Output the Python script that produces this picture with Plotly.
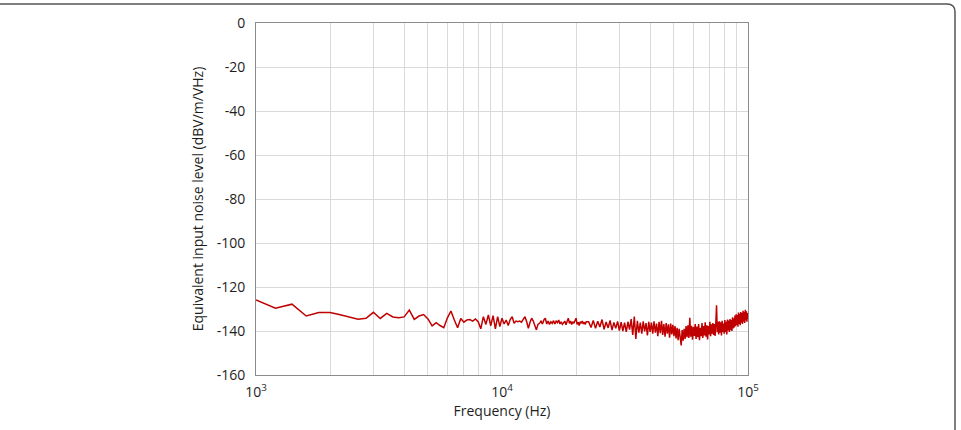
import plotly.graph_objects as go

# ---------------- data ----------------
freq_khz_low = [1.0, 1.2, 1.4, 1.6, 1.8, 2.0, 2.2, 2.4, 2.6, 2.8, 3.0, 3.2, 3.4, 3.6, 3.8,
                4.0, 4.2, 4.4, 4.6, 4.8, 5.0, 5.2, 5.4, 5.6, 5.8, 6.0, 6.2, 6.4, 6.6, 6.8,
                7.0, 7.2, 7.4, 7.6, 7.8, 8.0, 8.2, 8.4, 8.6, 8.8, 9.0, 9.2, 9.4, 9.6, 9.8]
level_low = [-125.9, -129.6, -127.8, -133.2, -131.6, -131.6, -132.6, -133.8, -134.7, -134.2,
             -131.5, -134.3, -132.0, -133.6, -134.0, -133.6, -130.5, -134.7, -133.2, -132.5,
             -134.5, -137.7, -136.2, -137.5, -138.5, -134.0, -130.9, -135.0, -138.5, -134.3,
             -136.0, -135.0, -134.8, -135.5, -134.5, -135.8, -139.0, -133.5, -137.0, -132.7,
             -137.6, -133.0, -139.0, -133.5, -138.0]

freq_khz_mid = [10.0, 10.2, 10.4, 10.6, 10.8, 11.0, 11.2, 11.4, 11.6, 11.8, 12.0, 12.2, 12.4,
                12.6, 12.8, 13.0, 13.2, 13.4, 13.6, 13.8, 14.0, 14.2, 14.4, 14.6, 14.8, 15.0,
                15.2, 15.4, 15.6, 15.8, 16.0, 16.2, 16.4, 16.6, 16.8, 17.0, 17.2, 17.4, 17.6,
                17.8, 18.0, 18.2, 18.4, 18.6, 18.8, 19.0, 19.2, 19.4, 19.6, 19.8, 20.0, 20.2,
                20.4, 20.6, 20.8, 21.0, 21.2, 21.4, 21.6, 21.8, 22.0]
level_mid = [-134.2, -136.8, -135.0, -137.5, -134.8, -133.5, -136.5, -135.5, -135.8, -135.5,
             -136.0, -134.5, -133.5, -135.8, -138.8, -136.0, -134.2, -135.5, -137.3, -139.5,
             -137.0, -136.5, -135.5, -136.8, -135.0, -134.2, -136.8, -135.5, -137.0, -135.8,
             -136.5, -135.3, -136.8, -135.5, -136.2, -135.0, -136.8, -135.8, -137.0, -136.0,
             -135.5, -137.2, -135.8, -134.2, -136.5, -135.5, -137.0, -135.8, -136.5, -135.0,
             -134.2, -137.0, -136.0, -137.5, -135.8, -136.5, -135.5, -136.8, -136.0, -137.0,
             -135.8]

freq_khz_high = [22.5, 23.0, 23.5, 24.0, 24.5, 25.0, 25.5, 26.0, 26.5, 27.0, 27.5, 28.0, 28.5,
                 29.0, 29.5, 30.0, 30.5, 31.0, 31.5, 32.0, 32.5, 33.0, 33.5, 34.0, 34.5, 35.0,
                 35.5, 36.0, 36.5, 37.0, 37.5, 38.0, 38.5, 39.0, 39.5, 40.0, 40.5, 41.0, 41.5,
                 42.0, 42.5, 43.0, 43.5, 44.0, 44.5, 45.0, 45.5, 46.0, 46.5, 47.0, 47.5, 48.0,
                 48.5, 49.0, 49.5, 50.0, 50.5, 51.0, 51.5, 52.0, 52.5, 53.0, 53.5, 54.0, 54.5,
                 55.0, 55.5, 56.0, 56.5, 57.0, 57.5, 58.0, 58.5, 59.0, 59.5, 60.0, 60.5, 61.0,
                 61.5, 62.0, 62.5, 63.0, 63.5, 64.0, 64.5, 65.0, 65.5, 66.0, 66.5, 67.0, 67.5,
                 68.0, 68.5, 69.0, 69.5, 70.0, 70.5, 71.0, 71.5, 72.0, 72.5, 73.0, 73.5, 74.0,
                 74.5, 75.0, 75.5, 76.0, 76.5, 77.0, 77.5, 78.0, 78.5, 79.0, 79.5, 80.0, 80.5,
                 81.0, 81.5, 82.0, 82.5, 83.0, 83.5, 84.0, 84.5, 85.0, 85.5, 86.0, 86.5, 87.0,
                 87.5, 88.0, 88.5, 89.0, 89.5, 90.0, 90.5, 91.0, 91.5, 92.0, 92.5, 93.0, 93.5,
                 94.0, 94.5, 95.0, 95.5, 96.0, 96.5, 97.0, 97.5, 98.0, 98.5, 99.0, 99.5, 100.0]
level_high = [-135.8, -138.4, -135.2, -138.8, -135.6, -138.2, -134.8, -139.2, -135.9, -138.6, -135.2, -139.6, -136.1,
              -138.8, -135.6, -139.8, -136.0, -140.0, -136.2, -140.4, -135.8, -139.4, -134.6, -141.8, -133.4, -143.6,
              -135.4, -140.8, -136.2, -141.2, -135.6, -140.2, -136.4, -142.0, -135.8, -140.4, -136.2, -141.2, -135.6,
              -140.8, -136.6, -142.4, -135.8, -141.0, -135.4, -141.8, -136.8, -142.6, -136.4, -141.2, -137.0, -143.0,
              -136.6, -141.6, -137.2, -142.4, -137.8, -143.4, -138.6, -144.2, -139.0, -145.0, -146.6, -139.6, -144.4,
              -139.0, -143.6, -137.8, -142.8, -137.4, -143.2, -134.0, -142.6, -137.6, -144.0, -138.2, -142.2, -136.8,
              -143.6, -138.0, -142.8, -136.8, -144.2, -138.6, -142.4, -136.4, -143.2, -137.8, -142.0, -136.0, -142.6,
              -137.4, -143.8, -137.8, -141.6, -135.8, -142.4, -137.0, -141.2, -136.4, -141.8, -136.8, -142.2, -136.4,
              -128.3, -140.6, -135.8, -141.6, -135.6, -140.8, -136.0, -142.0, -135.4, -140.4, -136.6, -141.2, -135.0,
              -140.6, -135.8, -141.6, -134.8, -139.8, -135.2, -140.4, -134.6, -139.6, -135.0, -140.0, -133.8, -138.8,
              -134.2, -138.4, -133.0, -137.8, -132.4, -137.2, -132.8, -138.0, -131.6, -136.8, -132.2, -137.4, -131.4,
              -136.2, -131.8, -136.8, -130.8, -135.8, -131.4, -136.4, -130.4, -135.2, -131.0, -135.8, -131.8, -134.6]

x_tick_vals = [1000, 2000, 3000, 4000, 5000, 6000, 7000, 8000, 9000,
               10000, 20000, 30000, 40000, 50000, 60000, 70000, 80000, 90000, 100000]
x_tick_text = ["10<sup>3</sup>", "", "", "", "", "", "", "", "",
               "10<sup>4</sup>", "", "", "", "", "", "", "", "", "10<sup>5</sup>"]
y_tick_vals = [0, -20, -40, -60, -80, -100, -120, -140, -160]
y_tick_text = ["0", "-20", "-40", "-60", "-80", "-100", "-120", "-140", "-160"]

freq_hz = [f * 1000 for f in freq_khz_low + freq_khz_mid + freq_khz_high]
level = level_low + level_mid + level_high

# ---------------- figure ----------------
W, H = 961, 430
L, R, T, B = 256, 213, 23, 55

fig = go.Figure()
fig.add_trace(go.Scatter(x=freq_hz, y=level, mode="lines",
                         line=dict(color="#c00000", width=1.5),
                         showlegend=False, hoverinfo="skip"))

font_family = "Open Sans, Lato, sans-serif"
txt = "#1e1e1e"

fig.update_xaxes(type="log", range=[3, 5], tickvals=x_tick_vals, ticktext=x_tick_text,
                 showgrid=True, gridcolor="#d9d9d9", gridwidth=1,
                 showline=True, linecolor="#8c8c8c", linewidth=1, mirror=True,
                 ticks="", ticklabelstandoff=4,
                 tickfont=dict(size=14, color=txt, family=font_family),
                 title=dict(text="Frequency (Hz)", font=dict(size=14, color=txt, family=font_family),
                            standoff=6),
                 zeroline=False)
fig.update_yaxes(range=[-160, 0], tickvals=y_tick_vals, ticktext=y_tick_text,
                 showgrid=True, gridcolor="#d9d9d9", gridwidth=1,
                 showline=True, linecolor="#8c8c8c", linewidth=1, mirror=True,
                 ticks="", ticklabelstandoff=7,
                 tickfont=dict(size=14, color=txt, family=font_family),
                 title=dict(text="Equivalent input noise level (dBV/m/VHz)",
                            font=dict(size=14, color=txt, family=font_family), standoff=9),
                 zeroline=False)


def px(X):
    return (X - L) / (W - L - R)


def py(Y):
    return (H - B - Y) / (H - T - B)


# outer frame (rounded corner top-right)
path = (f"M {px(-5)},{py(4)} L {px(947)},{py(4)} "
        f"Q {px(955)},{py(4)} {px(955)},{py(12)} L {px(955)},{py(440)}")
fig.add_shape(type="path", path=path, xref="paper", yref="paper",
              line=dict(color="#555555", width=1.5), layer="above")

fig.update_layout(width=W, height=H, margin=dict(l=L, r=R, t=T, b=B, pad=0),
                  paper_bgcolor="white", plot_bgcolor="white",
                  font=dict(family=font_family, color=txt))

fig.write_html("out.html")
